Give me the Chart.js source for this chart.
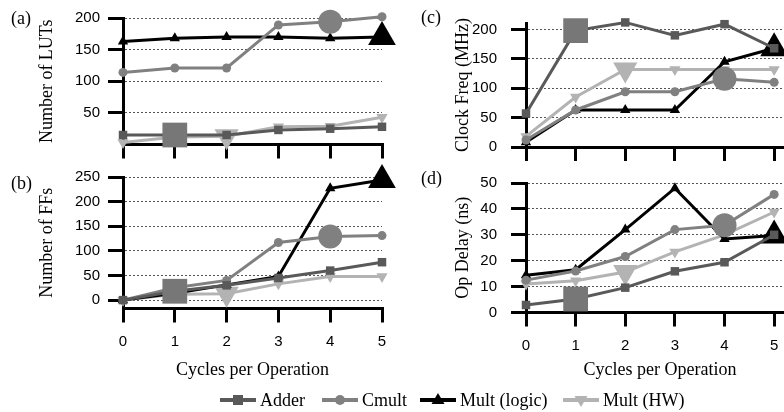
<!DOCTYPE html>
<html>
<head>
<meta charset="utf-8">
<script src="https://cdn.jsdelivr.net/npm/chart.js@4"></script>
<style>
  html, body { margin:0; padding:0; width:784px; height:412px; overflow:hidden; background:#fff; }
  canvas { position:absolute; }
  .lbl { position:absolute; font-family:"Liberation Serif", serif; font-size:18px; line-height:18px; color:#000; }
  .item { position:absolute; top:390px; height:20px; }
  .item svg { position:absolute; top:0; left:0; }
</style>
</head>
<body>
<canvas id="cA" width="400" height="165" style="left:0;top:0"></canvas>
<canvas id="cB" width="400" height="225" style="left:0;top:160px"></canvas>
<canvas id="cC" width="410" height="170" style="left:400px;top:0"></canvas>
<canvas id="cD" width="410" height="225" style="left:400px;top:160px"></canvas>
<div class="lbl" style="left:11px;top:9px">(a)</div>
<div class="lbl" style="left:11px;top:174px">(b)</div>
<div class="lbl" style="left:421px;top:8px">(c)</div>
<div class="lbl" style="left:421px;top:169px">(d)</div>
<div id="legend"></div>
<script>
/* ===== DATA ===== */
const cycles = [0, 1, 2, 3, 4, 5];
const seriesNames = ["Adder", "Cmult", "Mult (logic)", "Mult (HW)"];

// (a) Number of LUTs
const lutAdder = [15, 15, 15, 23, 25, 28];
const lutCmult = [114, 121, 121, 189, 194, 202];
const lutLogic = [163, 168, 170, 170, 168, 170];
const lutHW    = [3, 12, 13, 28, 29, 43];

// (b) Number of FFs
const ffAdder = [0, 18, 30, 45, 60, 77];
const ffCmult = [0, 25, 40, 117, 129, 131];
const ffLogic = [0, 14, 31, 48, 227, 244];
const ffHW    = [0, 12, 13, 33, 48, 48];

// (c) Clock Freq (MHz)
const clkAdder = [57, 198, 212, 190, 209, 168];
const clkCmult = [12, 63, 94, 94, 116, 110];
const clkLogic = [8, 63, 63, 63, 145, 168];
const clkHW    = [18, 85, 132, 132, 132, 132];

// (d) Op Delay (ns)
const dlyAdder = [2.9, 5.2, 9.6, 15.9, 19.4, 30];
const dlyCmult = [12.5, 16, 21.6, 32, 33.7, 45.6];
const dlyLogic = [14.4, 16.5, 32, 48, 28.4, 29.7];
const dlyHW    = [11, 12.3, 15.6, 23.4, 30, 38.8];

const lutTicks = [50, 100, 150, 200];
const ffTicks  = [0, 50, 100, 150, 200, 250];
const clkTicks = [0, 50, 100, 150, 200];
const dlyTicks = [0, 10, 20, 30, 40, 50];

/* ===== STYLE ===== */
const colors    = ["#595959", "#808080", "#000000", "#b3b3b3"];
const bigColors = ["#777777", "#808080", "#000000", "#b3b3b3"];
const shapes    = ["rect", "circle", "triangle", "triangle"];
const rotations = [0, 0, 0, 180];
const bigIndex  = [1, 4, 5, 2];
const smallR    = [6, 4.5, 6, 6.5];
const bigR      = [17.5, 12, 16, 14];

const SANS = "Liberation Sans";
const SERIF = "Liberation Serif";
Chart.defaults.color = "#000";

function makeDatasets(vals) {
  return vals.map((v, s) => ({
    label: seriesNames[s],
    data: cycles.map((c, i) => ({x: c, y: v[i]})),
    borderColor: colors[s],
    borderWidth: 3,
    tension: 0,
    clip: false,
    pointStyle: shapes[s],
    pointRotation: rotations[s],
    pointRadius: cycles.map((c, i) => i === bigIndex[s] ? bigR[s] : smallR[s]),
    pointBackgroundColor: cycles.map((c, i) => i === bigIndex[s] ? bigColors[s] : colors[s]),
    pointBorderColor: cycles.map((c, i) => i === bigIndex[s] ? bigColors[s] : colors[s]),
    pointBorderWidth: 0
  }));
}

function yScale(min, max, ticks, title, width, pad) {
  return {
    type: "linear", min: min, max: max,
    afterBuildTicks: s => { s.ticks = ticks.map(v => ({value: v})); },
    afterFit: s => { s.width = width; },
    ticks: {font: {family: SANS, size: 15}, color: "#000", padding: pad},
    grid: {color: "#555", lineWidth: 1, borderDash: [2, 2], tickColor: "#000",
           tickWidth: 3, tickLength: 15, tickBorderDash: []},
    border: {color: "#000", width: 3, dash: [2, 2]},
    title: {display: true, text: title, color: "#000",
            font: {family: SERIF, size: 18}, padding: {top: 4, bottom: 4}}
  };
}

function xScale(max, labels, height) {
  return {
    type: "linear", min: 0, max: max,
    afterBuildTicks: s => { s.ticks = cycles.map(v => ({value: v})); },
    afterFit: s => { s.height = height; },
    ticks: {display: labels, font: {family: SANS, size: 15}, color: "#000", padding: 10, maxRotation: 0},
    grid: {drawOnChartArea: false, drawTicks: true, color: "#000", lineWidth: 3,
           tickColor: "#000", tickWidth: 3, tickLength: 14, tickBorderDash: []},
    border: {color: "#000", width: 3},
    title: {display: labels, text: "Cycles per Operation", color: "#000",
            font: {family: SERIF, size: 18}, padding: {top: 4, bottom: 4}}
  };
}

function panel(id, vals, pad, x, y) {
  new Chart(document.getElementById(id), {
    type: "line",
    data: {datasets: makeDatasets(vals)},
    options: {
      responsive: false, animation: false, events: [],
      layout: {padding: pad},
      plugins: {legend: {display: false}, tooltip: {enabled: false}},
      scales: {x: x, y: y}
    }
  });
}

/* ===== CHARTS ===== */
panel("cA", [lutAdder, lutCmult, lutLogic, lutHW],
  {left: 32, top: 18, right: 18, bottom: 0},
  xScale(5, false, 20.5), yScale(0, 200, lutTicks, "Number of LUTs", 91, 8));

panel("cB", [ffAdder, ffCmult, ffLogic, ffHW],
  {left: 32, top: 13.3, right: 18, bottom: 0},
  xScale(5, true, 76.5), yScale(-17, 250, ffTicks, "Number of FFs", 91, 8));

panel("cC", [clkAdder, clkCmult, clkLogic, clkHW],
  {left: 48, top: 17.3, right: 6.4, bottom: 0},
  xScale(5.4, false, 20), yScale(0, 211, clkTicks, "Clock Freq (MHz)", 78, 14));

panel("cD", [dlyAdder, dlyCmult, dlyLogic, dlyHW],
  {left: 48, top: 19, right: 6.4, bottom: 0},
  xScale(5.4, true, 72.5), yScale(0, 50, dlyTicks, "Op Delay (ns)", 78, 14));

/* ===== LEGEND ===== */
const legendX = [220, 322, 420, 563];
function markerSvg(s) {
  const c = colors[s];
  let m = "";
  if (shapes[s] === "rect") m = `<rect x="13" y="5" width="10" height="10" fill="${c}"/>`;
  else if (shapes[s] === "circle") m = `<circle cx="18" cy="10" r="5" fill="${c}"/>`;
  else if (rotations[s] === 0) m = `<polygon points="18,3 24.5,14 11.5,14" fill="${c}"/>`;
  else m = `<polygon points="11.5,6 24.5,6 18,17" fill="${c}"/>`;
  return `<svg width="36" height="20"><line x1="0" y1="10" x2="36" y2="10" stroke="${c}" stroke-width="4"/>${m}</svg>`;
}
document.getElementById("legend").innerHTML = seriesNames.map((n, s) =>
  `<div class="item" style="left:${legendX[s]}px">${markerSvg(s)}` +
  `<div style="position:absolute;left:40px;top:1px;white-space:nowrap;font-family:'Liberation Serif',serif;font-size:18px;line-height:18px;color:#000">${n}</div></div>`
).join("");
</script>
</body>
</html>
